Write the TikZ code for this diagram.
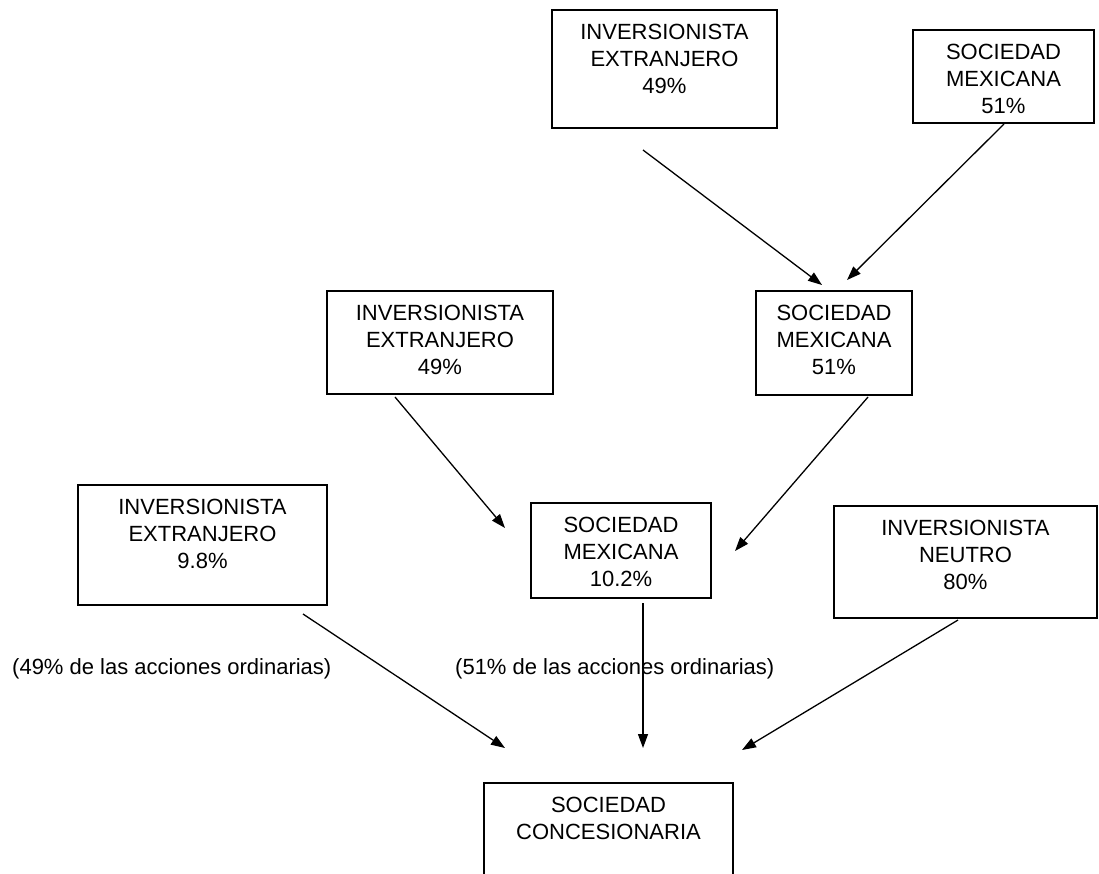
\documentclass[tikz,border=0pt]{standalone}
\usepackage{fontspec}
\setmainfont{Liberation Sans}
\usetikzlibrary{arrows.meta}
\begin{document}
\begin{tikzpicture}[x=1pt,y=-1pt,
  box/.style={draw, line width=1.4pt, inner sep=0pt},
  txt/.style={align=center, inner sep=0pt, font=\fontsize{22}{26.7}\selectfont},
  lbl/.style={inner sep=0pt, font=\fontsize{22}{26.7}\selectfont, anchor=base west},
  arr/.style={line width=1.3pt, -{Triangle[length=14pt,width=10pt]}}]
\useasboundingbox (0,0) rectangle (1099,873);
\clip (0,0) rectangle (1099,873);
% boxes
\node[box, minimum width=225pt, minimum height=118pt] (A) at (664.5,69) {};
\node[box, minimum width=181pt, minimum height=93pt] (B) at (1003.5,76.5) {};
\node[box, minimum width=156pt, minimum height=104pt] (C) at (834,343) {};
\node[box, minimum width=226pt, minimum height=103pt] (D) at (440,342.5) {};
\node[box, minimum width=249pt, minimum height=120pt] (E) at (202.5,545) {};
\node[box, minimum width=180pt, minimum height=95pt] (F) at (621,550.5) {};
\node[box, minimum width=263pt, minimum height=112pt] (G) at (965.5,562) {};
\node[box, minimum width=249pt, minimum height=137pt] (H) at (608.5,851.5) {};
% texts
\node[txt, anchor=north] (At) at ([yshift=-15pt]A.north) {INVERSIONISTA\\EXTRANJERO\\49\%};
\node[txt, anchor=north] (Bt) at ([yshift=-15pt]B.north) {SOCIEDAD\\MEXICANA\\51\%};
\node[txt, anchor=north] (Ct) at ([yshift=-15pt]C.north) {SOCIEDAD\\MEXICANA\\51\%};
\node[txt, anchor=north] (Dt) at ([yshift=-15pt]D.north) {INVERSIONISTA\\EXTRANJERO\\49\%};
\node[txt, anchor=north] (Et) at ([yshift=-15pt]E.north) {INVERSIONISTA\\EXTRANJERO\\9.8\%};
\node[txt, anchor=north] (Ft) at ([yshift=-15pt]F.north) {SOCIEDAD\\MEXICANA\\10.2\%};
\node[txt, anchor=north] (Gt) at ([yshift=-15pt]G.north) {INVERSIONISTA\\NEUTRO\\80\%};
\node[txt, anchor=north] (Ht) at ([yshift=-15pt]H.north) {SOCIEDAD\\CONCESIONARIA};
% labels
\node[lbl] (L1) at (12,674) {(49\% de las acciones ordinarias)};
\node[lbl] (L2) at (455,674) {(51\% de las acciones ordinarias)};
% connector ends
\coordinate (a1) at (643,150); \coordinate (a1e) at (822,285);
\coordinate (b1) at (1004,124); \coordinate (b1e) at (847,280);
\coordinate (d1) at (395,397); \coordinate (d1e) at (505,528);
\coordinate (c1) at (868,397); \coordinate (c1e) at (735,551);
\coordinate (e1) at (303,614); \coordinate (e1e) at (505,748);
\coordinate (f1) at (643,603); \coordinate (f1e) at (643,748);
\coordinate (g1) at (958,620); \coordinate (g1e) at (742,750);
% connectors
\draw[arr] (a1) -- (a1e);
\draw[arr] (b1) -- (b1e);
\draw[arr] (d1) -- (d1e);
\draw[arr] (c1) -- (c1e);
\draw[arr] (e1) -- (e1e);
\draw[arr] (f1) -- (f1e);
\draw[arr] (g1) -- (g1e);
\end{tikzpicture}
\end{document}
